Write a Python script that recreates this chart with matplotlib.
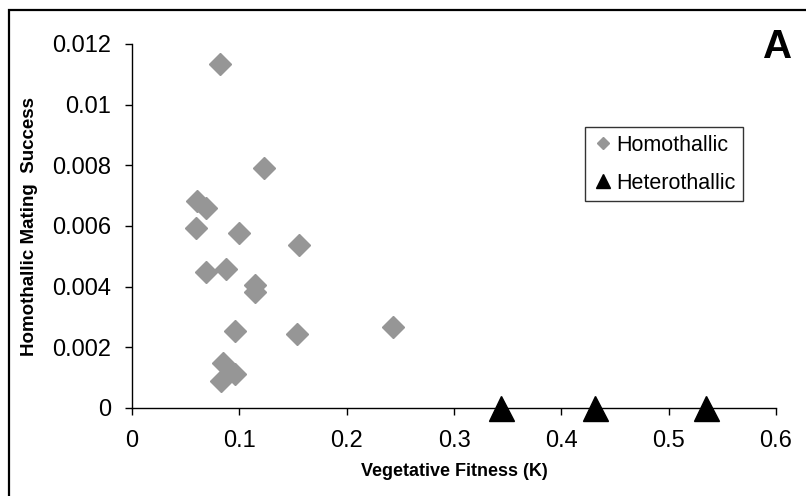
import matplotlib.pyplot as plt
from matplotlib.patches import Rectangle

plt.rcParams['font.family'] = ['Liberation Sans', 'DejaVu Sans']

# homothallic isolates (vegetative fitness K, mating success)
homo_k = [0.0816, 0.1234, 0.0604, 0.0692, 0.0598, 0.100, 0.1555, 0.0692, 0.0879,
          0.1143, 0.1143, 0.0956, 0.1533, 0.0847, 0.0963, 0.0829, 0.2436]
homo_mating = [0.01135, 0.00791, 0.00681, 0.00659, 0.00593, 0.00577, 0.00538, 0.0045,
               0.00458, 0.00406, 0.00382, 0.00255, 0.00244, 0.00147, 0.00111, 0.0009, 0.00266]

# heterothallic isolates
hetero_k = [0.344, 0.431, 0.535]
hetero_mating = [0.0, 0.0, 0.0]

x_ticks = [0, 0.1, 0.2, 0.3, 0.4, 0.5, 0.6]
x_tick_labels = ['0', '0.1', '0.2', '0.3', '0.4', '0.5', '0.6']
y_ticks = [0, 0.002, 0.004, 0.006, 0.008, 0.01, 0.012]
y_tick_labels = ['0', '0.002', '0.004', '0.006', '0.008', '0.01', '0.012']

fig = plt.figure(figsize=(8.06, 4.96), dpi=100)
ax = fig.add_axes([132 / 806, 88 / 496, 644 / 806, 364 / 496])

ax.plot(homo_k, homo_mating, linestyle='none', marker='D', markersize=11.5,
        color='#969696', label='Homothallic', clip_on=False, zorder=3)
ax.plot(hetero_k, hetero_mating, linestyle='none', marker='^', markersize=18,
        color='black', label='Heterothallic', clip_on=False, zorder=4)

ax.set_xlim(0, 0.6)
ax.set_ylim(0, 0.012)
ax.set_xticks(x_ticks)
ax.set_xticklabels(x_tick_labels)
ax.set_yticks(y_ticks)
ax.set_yticklabels(y_tick_labels)

for side in ['top', 'right']:
    ax.spines[side].set_visible(False)
for side in ['left', 'bottom']:
    ax.spines[side].set_linewidth(1.0)

ax.tick_params(axis='both', direction='out', length=5, width=1, labelsize=17)
ax.tick_params(axis='y', pad=10)
ax.tick_params(axis='x', pad=11)

ax.set_xlabel('Vegetative Fitness (K)', fontsize=13, fontweight='bold', labelpad=8)
ax.set_ylabel('Homothallic Mating  Success', fontsize=13.5, fontweight='bold', labelpad=10)

leg = ax.legend(loc='upper left', bbox_to_anchor=(0.703, 0.772), fontsize=15.5,
                frameon=True, fancybox=False, edgecolor='black', borderpad=0.35,
                handletextpad=0.1, handlelength=1.0, labelspacing=0.8, borderaxespad=0)
leg.get_frame().set_linewidth(1.0)
leg.legend_handles[0].set_markersize(6)
leg.legend_handles[1].set_markersize(10)

fig.text(778 / 806, 1 - 47 / 496, 'A', fontsize=29, fontweight='bold',
         ha='center', va='center')

# outer chart frame
fig.patches.append(Rectangle((9 / 806, -0.05), 1.1, 1 - 10 / 496 + 0.05,
                             transform=fig.transFigure, fill=False,
                             edgecolor='black', linewidth=1.6, clip_on=False))

fig.savefig('out.png', dpi=100)
